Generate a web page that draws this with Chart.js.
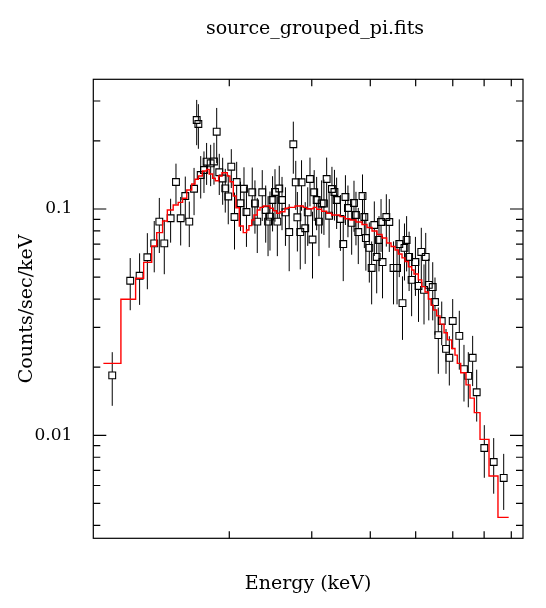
<!DOCTYPE html>
<html>
<head>
<meta charset="utf-8">
<title>source_grouped_pi.fits</title>
<script src="https://cdn.jsdelivr.net/npm/chart.js@4.4.1/dist/chart.umd.min.js"></script>
<style>
  html, body { margin: 0; padding: 0; background: #fff; }
  #wrap { width: 546px; height: 608px; position: relative; }
</style>
</head>
<body>
<div id="wrap"><canvas id="spectrum"></canvas></div>
<script>
// ── Data ──────────────────────────────────────
const energies = [
  1.125, 1.229, 1.287, 1.337, 1.383, 1.418, 1.453, 1.499, 1.539, 1.575,
  1.611, 1.643, 1.682, 1.704, 1.718, 1.738, 1.766, 1.789, 1.825, 1.855,
  1.880, 1.904, 1.936, 1.961, 1.990, 2.020, 2.052, 2.074, 2.113, 2.150,
  2.176, 2.239, 2.269, 2.295, 2.352, 2.392, 2.420, 2.443, 2.474, 2.504,
  2.533, 2.557, 2.592, 2.636, 2.685, 2.740, 2.773, 2.795, 2.835, 2.853,
  2.905, 2.941, 2.974, 3.011, 3.036, 3.073, 3.108, 3.149, 3.185, 3.228,
  3.267, 3.313, 3.354, 3.390, 3.454, 3.502, 3.540, 3.584, 3.650, 3.692,
  3.728, 3.771, 3.850, 3.885, 3.914, 3.981, 4.027, 4.080, 4.128, 4.175,
  4.217, 4.248, 4.328, 4.392, 4.484, 4.562, 4.613, 4.686, 4.732, 4.782,
  4.841, 4.901, 4.994, 5.070, 5.140, 5.209, 5.253, 5.333, 5.437, 5.498,
  5.588, 5.683, 5.804, 5.899, 5.998, 6.196, 6.340, 6.476, 6.616, 6.749,
  7.006, 7.337, 7.707
];
const rates = [
  0.0184, 0.0482, 0.0507, 0.0612, 0.0705, 0.0879, 0.0705, 0.0910, 0.1316, 0.0910,
  0.1141, 0.0879, 0.1229, 0.2474, 0.2375, 0.1413, 0.1487, 0.1618, 0.1592, 0.1621,
  0.2196, 0.1453, 0.1364, 0.1234, 0.1136, 0.1538, 0.0922, 0.1316, 0.1060, 0.1229,
  0.0970, 0.1185, 0.1058, 0.0879, 0.1185, 0.0990, 0.0879, 0.0925, 0.1096, 0.1189,
  0.0879, 0.1232, 0.1096, 0.0967, 0.0791, 0.1932, 0.1312, 0.0919, 0.0791, 0.1312,
  0.0822, 0.0967, 0.1357, 0.0733, 0.1185, 0.1096, 0.0879, 0.1058, 0.1058, 0.1357,
  0.0934, 0.1226, 0.1189, 0.1096, 0.0903, 0.0700, 0.1130, 0.1010, 0.0868, 0.1063,
  0.0941, 0.0791, 0.1141, 0.0922, 0.0744, 0.0673, 0.0549, 0.0850, 0.0614, 0.0730,
  0.0876, 0.0583, 0.0922, 0.0876, 0.0549, 0.0549, 0.0700, 0.0384, 0.0673, 0.0730,
  0.0614, 0.0486, 0.0583, 0.0457, 0.0646, 0.0439, 0.0614, 0.0462, 0.0452, 0.0388,
  0.0277, 0.0320, 0.0241, 0.0220, 0.0320, 0.0275, 0.0196, 0.0183, 0.0220, 0.0155,
  0.00879, 0.00762, 0.00648
];
const rateErrs = [
  0.0049, 0.0125, 0.013, 0.017, 0.018, 0.024, 0.019, 0.020, 0.027, 0.022,
  0.025, 0.020, 0.029, 0.056, 0.053, 0.030, 0.031, 0.034, 0.033, 0.034,
  0.060, 0.030, 0.032, 0.027, 0.028, 0.030, 0.026, 0.030, 0.026, 0.030,
  0.029, 0.034, 0.028, 0.024, 0.030, 0.028, 0.026, 0.027, 0.030, 0.031,
  0.026, 0.032, 0.029, 0.028, 0.026, 0.050, 0.032, 0.027, 0.025, 0.033,
  0.025, 0.028, 0.033, 0.024, 0.030, 0.029, 0.026, 0.028, 0.029, 0.033,
  0.026, 0.031, 0.030, 0.028, 0.025, 0.022, 0.028, 0.026, 0.024, 0.027,
  0.025, 0.022, 0.028, 0.025, 0.021, 0.020, 0.017, 0.023, 0.019, 0.020,
  0.023, 0.018, 0.024, 0.023, 0.017, 0.017, 0.020, 0.012, 0.019, 0.020,
  0.018, 0.015, 0.017, 0.014, 0.018, 0.013, 0.017, 0.014, 0.013, 0.011,
  0.009, 0.007, 0.0054, 0.0054, 0.008, 0.008, 0.0055, 0.005, 0.0055, 0.004,
  0.0023, 0.0021, 0.0018
];

// model: bin edges (one more than values) and folded model rate per bin
const modelEdges = [
  1.077, 1.174, 1.262, 1.313, 1.366, 1.400, 1.441, 1.475, 1.518, 1.556,
  1.590, 1.623, 1.663, 1.690, 1.718, 1.752, 1.789, 1.812, 1.843, 1.867,
  1.898, 1.929, 1.981, 2.007, 2.040, 2.067, 2.101, 2.142, 2.178, 2.203,
  2.233, 2.258, 2.295, 2.326, 2.364, 2.443, 2.483, 2.525, 2.566, 2.630,
  2.673, 2.763, 2.877, 2.926, 3.022, 3.073, 3.149, 3.228, 3.308, 3.446,
  3.532, 3.621, 3.728, 3.840, 3.936, 4.034, 4.134, 4.238, 4.337, 4.430,
  4.518, 4.590, 4.675, 4.745, 4.823, 4.903, 4.959, 5.065, 5.151, 5.235,
  5.321, 5.392, 5.453, 5.545, 5.636, 5.748, 5.841, 5.968, 6.066, 6.135,
  6.239, 6.404, 6.531, 6.670, 6.860, 7.170, 7.493, 7.898
];
const modelRates = [
  0.0208, 0.0399, 0.0494, 0.0581, 0.0686, 0.0786, 0.0885, 0.0990, 0.1041, 0.1070,
  0.1115, 0.1213, 0.1290, 0.1353, 0.1399, 0.1472, 0.1497, 0.1428, 0.1367, 0.1334,
  0.1399, 0.1447, 0.1399, 0.1320, 0.1141, 0.1013, 0.0841, 0.0786, 0.0808, 0.0844,
  0.0894, 0.0941, 0.0990, 0.1017, 0.1031, 0.1007, 0.0983, 0.0957, 0.0973, 0.1007,
  0.1017, 0.1031, 0.1017, 0.1003, 0.1017, 0.0997, 0.0977, 0.0957, 0.0941, 0.0925,
  0.0906, 0.0894, 0.0876, 0.0854, 0.0829, 0.0800, 0.0772, 0.0744, 0.0708, 0.0683,
  0.0659, 0.0633, 0.0608, 0.0586, 0.0556, 0.0538, 0.0516, 0.0486, 0.0454, 0.0430,
  0.0400, 0.0376, 0.0358, 0.0337, 0.0310, 0.0284, 0.0264, 0.0242, 0.0226, 0.0208,
  0.0189, 0.0167, 0.0146, 0.0126, 0.00960, 0.00661, 0.00434
];

// axis ticks
const xTickValues = [2, 3, 4, 5, 6, 7, 8];
const yMajorTicks = [0.01, 0.1];
const yTickLabels = ['0.01', '0.1'];
const yMinorTicks = [
  0.004, 0.005, 0.006, 0.007, 0.008, 0.009,
  0.02, 0.03, 0.04, 0.05, 0.06, 0.07, 0.08, 0.09,
  0.2, 0.3
];

const plotTitle = 'source_grouped_pi.fits';
const xTitle = 'Energy (keV)';
const yTitle = 'Counts/sec/keV';

const SERIF = "'DejaVu Serif', 'Liberation Serif', serif";


// ── Error bars (under the markers and model) ──
const errorBars = {
  id: 'errorBars',
  beforeDatasetsDraw(chart) {
    const { ctx, scales: { x, y } } = chart;
    const half = 3.4;
    ctx.save();
    ctx.strokeStyle = '#000';
    ctx.lineWidth = 1;
    ctx.beginPath();
    energies.forEach((e, i) => {
      const px = x.getPixelForValue(e);
      const py = y.getPixelForValue(rates[i]);
      const top = y.getPixelForValue(rates[i] + rateErrs[i]);
      const bot = y.getPixelForValue(Math.max(rates[i] - rateErrs[i], y.min));
      ctx.moveTo(px, top);
      ctx.lineTo(px, py - half);
      ctx.moveTo(px, py + half);
      ctx.lineTo(px, bot);
    });
    ctx.stroke();
    ctx.restore();
  }
};


// ── Box, inward ticks and plot title ──────────
const frameTicks = {
  id: 'frameTicks',
  afterDraw(chart) {
    const { ctx, chartArea: a, scales: { x, y } } = chart;
    ctx.save();
    ctx.strokeStyle = '#000';
    ctx.lineWidth = 1.2;
    ctx.strokeRect(a.left, a.top, a.right - a.left, a.bottom - a.top);

    ctx.beginPath();
    xTickValues.forEach(v => {
      const px = x.getPixelForValue(v);
      ctx.moveTo(px, a.bottom); ctx.lineTo(px, a.bottom - 7);
      ctx.moveTo(px, a.top);    ctx.lineTo(px, a.top + 7);
    });
    const yTick = (v, len) => {
      const py = y.getPixelForValue(v);
      ctx.moveTo(a.left, py);  ctx.lineTo(a.left + len, py);
      ctx.moveTo(a.right, py); ctx.lineTo(a.right - len, py);
    };
    yMinorTicks.forEach(v => yTick(v, 7));
    yMajorTicks.forEach(v => yTick(v, 13));
    ctx.stroke();

    ctx.fillStyle = '#000';
    ctx.font = `19px ${SERIF}`;
    ctx.textAlign = 'center';
    ctx.textBaseline = 'alphabetic';
    ctx.fillText(plotTitle, 315, 34);
    ctx.restore();
  }
};


// ── Chart ─────────────────────────────────────
const dataPoints  = energies.map((e, i) => ({ x: e, y: rates[i] }));
const modelPoints = modelRates.map((r, i) => ({ x: modelEdges[i], y: r }));
modelPoints.push({ x: modelEdges[modelEdges.length - 1], y: modelRates[modelRates.length - 1] });

new Chart(document.getElementById('spectrum'), {
  type: 'scatter',
  data: {
    datasets: [
      {
        label: 'model',
        data: modelPoints,
        showLine: true,
        stepped: true,
        borderColor: '#ff0000',
        borderWidth: 1.4,
        pointRadius: 0,
        fill: false,
      },
      {
        label: 'data',
        data: dataPoints,
        showLine: false,
        pointStyle: 'rect',
        pointRadius: 4.8,
        borderColor: '#000',
        backgroundColor: 'rgba(0,0,0,0)',
        pointBorderWidth: 1.1,
      }
    ]
  },
  options: {
    responsive: true,
    maintainAspectRatio: false,
    animation: false,
    layout: { padding: { top: 79.3, right: 23, left: 0, bottom: 0 } },
    plugins: {
      legend: { display: false },
      tooltip: { enabled: false },
      title: { display: false }
    },
    scales: {
      x: {
        type: 'logarithmic',
        min: 1.025, max: 8.474,
        grid: { display: false },
        border: { display: false },
        ticks: { display: false },
        title: {
          display: true, text: xTitle, color: '#000',
          font: { family: SERIF, size: 19 },
          padding: { top: 0, bottom: 12.6 }
        },
        afterBuildTicks: s => { s.ticks = xTickValues.map(v => ({ value: v })); },
        afterFit: s => { s.height = 69.7; }
      },
      y: {
        type: 'logarithmic',
        min: 0.003507, max: 0.3742,
        grid: { display: false },
        border: { display: false },
        ticks: {
          color: '#000',
          font: { family: SERIF, size: 17 },
          padding: 13,
          autoSkip: false,
          callback: v => yTickLabels[yMajorTicks.indexOf(v)] || ''
        },
        title: {
          display: true, text: yTitle, color: '#000',
          font: { family: SERIF, size: 19 },
          padding: { top: 15.6, bottom: 0 }
        },
        afterBuildTicks: s => { s.ticks = yMajorTicks.map(v => ({ value: v })); },
        afterFit: s => { s.width = 93.3; }
      }
    }
  },
  plugins: [errorBars, frameTicks]
});
</script>
</body>
</html>
